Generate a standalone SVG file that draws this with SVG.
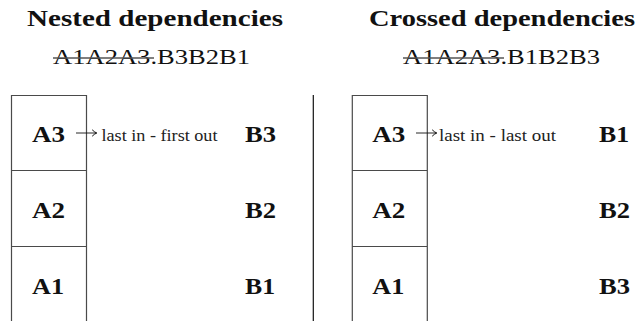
<svg xmlns="http://www.w3.org/2000/svg" width="640" height="321" viewBox="0 0 640 321">
  <style>
    .title { font-family: "Liberation Serif", "DejaVu Serif", serif; font-weight: bold; font-size: 23px; fill: #111; }
    .seq { font-family: "Liberation Serif", "DejaVu Serif", serif; font-size: 22px; fill: #111; }
    .lbl { font-family: "Liberation Serif", "DejaVu Serif", serif; font-weight: bold; font-size: 24px; fill: #111; }
    .note { font-family: "Liberation Serif", "DejaVu Serif", serif; font-size: 16px; fill: #222; }
    .cell { fill: none; stroke: #4a4a4a; stroke-width: 1.2; }
    .strike { stroke: #555; stroke-width: 1.3; }
    .arrow { fill: none; stroke: #111; stroke-width: 0.9; }
    .sep { stroke: #111; stroke-width: 1.2; }
  </style>
  <defs>
    <marker id="head" viewBox="0 0 8 8" refX="7" refY="4" markerWidth="8" markerHeight="8" markerUnits="userSpaceOnUse" orient="auto">
      <path d="M2.5,0.8 Q4.8,3.1 7,4 Q4.8,4.9 2.5,7.2" fill="none" stroke="#111" stroke-width="1"/>
    </marker>
  </defs>

  <!-- Left panel: nested dependencies -->
  <g id="nested-header">
    <text class="title" x="27" y="26" textLength="256" lengthAdjust="spacingAndGlyphs">Nested dependencies</text>
    <text class="seq" x="53" y="64" textLength="197" lengthAdjust="spacingAndGlyphs">A1A2A3.B3B2B1</text>
    <line class="strike" x1="53" y1="58" x2="154" y2="58"/>
  </g>

  <g id="nested-stack">
    <path class="cell" d="M11.5,321 V95.5 H86.5 V321 M11.5,170.5 H86.5 M11.5,246.5 H86.5"/>
    <text class="lbl" x="32" y="142" textLength="33" lengthAdjust="spacingAndGlyphs">A3</text>
    <text class="lbl" x="32" y="218" textLength="33" lengthAdjust="spacingAndGlyphs">A2</text>
    <text class="lbl" x="32" y="294" textLength="32" lengthAdjust="spacingAndGlyphs">A1</text>
  </g>

  <g id="nested-b">
    <text class="lbl" x="245" y="142" textLength="31" lengthAdjust="spacingAndGlyphs">B3</text>
    <text class="lbl" x="245" y="218" textLength="31" lengthAdjust="spacingAndGlyphs">B2</text>
    <text class="lbl" x="245" y="294" textLength="30" lengthAdjust="spacingAndGlyphs">B1</text>
  </g>

  <g id="nested-note">
    <text class="note" x="101.5" y="141" textLength="116" lengthAdjust="spacingAndGlyphs">last in - first out</text>
  </g>

  <!-- Panel divider -->
  <line class="sep" x1="313.3" y1="95" x2="313.3" y2="321"/>

  <!-- Right panel: crossed dependencies -->
  <g id="crossed-header">
    <text class="title" x="369" y="26" textLength="266" lengthAdjust="spacingAndGlyphs">Crossed dependencies</text>
    <text class="seq" x="403" y="64" textLength="197" lengthAdjust="spacingAndGlyphs">A1A2A3.B1B2B3</text>
    <line class="strike" x1="403" y1="58" x2="504" y2="58"/>
  </g>

  <g id="crossed-stack">
    <path class="cell" d="M352.3,321 V95.5 H427.3 V321 M352.3,170.5 H427.3 M352.3,246.5 H427.3"/>
    <text class="lbl" x="372.3" y="142" textLength="33" lengthAdjust="spacingAndGlyphs">A3</text>
    <text class="lbl" x="372.3" y="218" textLength="33" lengthAdjust="spacingAndGlyphs">A2</text>
    <text class="lbl" x="372.3" y="294" textLength="32" lengthAdjust="spacingAndGlyphs">A1</text>
  </g>

  <g id="crossed-b">
    <text class="lbl" x="599" y="142" textLength="30" lengthAdjust="spacingAndGlyphs">B1</text>
    <text class="lbl" x="599" y="218" textLength="31" lengthAdjust="spacingAndGlyphs">B2</text>
    <text class="lbl" x="599" y="294" textLength="31" lengthAdjust="spacingAndGlyphs">B3</text>
  </g>

  <g id="crossed-note">
    <text class="note" x="439" y="141" textLength="117" lengthAdjust="spacingAndGlyphs">last in - last out</text>
  </g>

  <!-- Pointers from the top cell to its note -->
  <g id="connectors">
    <line class="arrow" x1="76" y1="133" x2="96.7" y2="133" marker-end="url(#head)"/>
    <line class="arrow" x1="416" y1="133" x2="436.7" y2="133" marker-end="url(#head)"/>
  </g>
</svg>
